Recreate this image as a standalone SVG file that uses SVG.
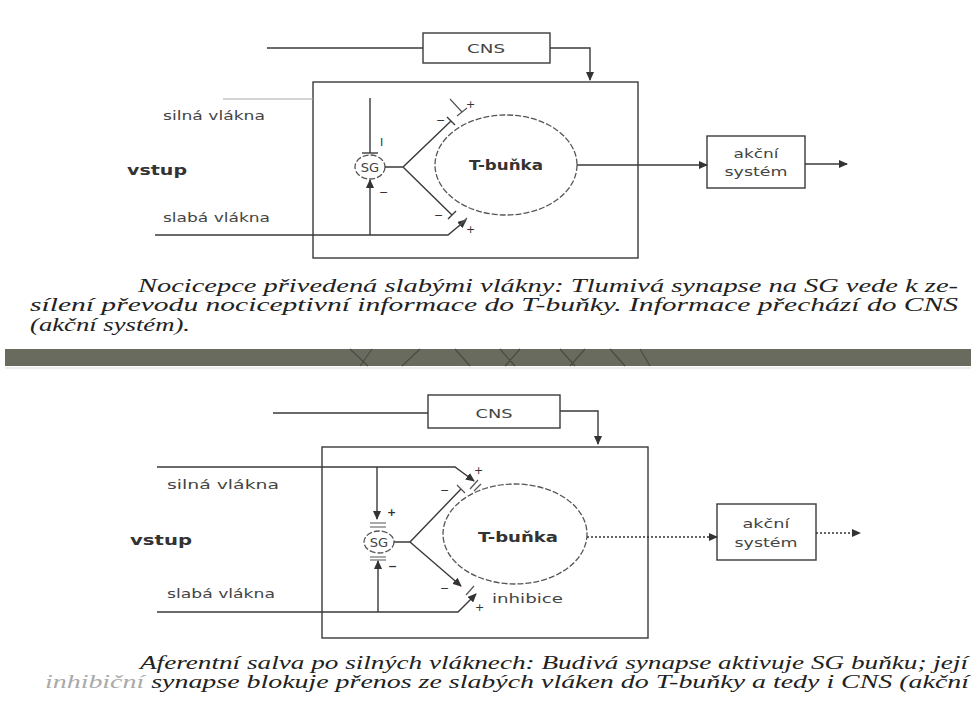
<svg xmlns="http://www.w3.org/2000/svg" width="971" height="702" viewBox="0 0 971 702">
<defs>
<marker id="ah" markerUnits="userSpaceOnUse" markerWidth="9" markerHeight="8" refX="8" refY="4" orient="auto"><path d="M0,0 L9,4 L0,8 z" fill="#333"/></marker>
<style>
.ln{stroke:#3a3a3a;stroke-width:1.4;fill:none}
.th{stroke:#555;stroke-width:1.2;fill:none}
.dash{stroke:#555;stroke-width:1.3;fill:none;stroke-dasharray:6 2}
.dot{stroke:#333;stroke-width:1.6;fill:none;stroke-dasharray:2 2}
.lbl{font-family:"DejaVu Sans",sans-serif;font-size:13px;fill:#444}
.b{font-weight:bold;fill:#333;font-size:14px}
.sm{font-family:"DejaVu Sans",sans-serif;font-size:11px;fill:#333}
.cap{font-family:"Liberation Serif",serif;font-style:italic;font-size:19px;fill:#222}
</style>
</defs>
<rect width="971" height="702" fill="#fff"/>

<!-- TOP DIAGRAM -->
<g id="top-box"><rect x="313" y="82" width="325" height="176" class="ln"/></g>
<g id="top-cns"><rect x="423" y="33" width="127" height="30" class="ln"/><text x="486" y="53" class="lbl" font-size="12" text-anchor="middle" textLength="38" lengthAdjust="spacingAndGlyphs">CNS</text></g>
<g id="top-sg"><ellipse cx="370" cy="167" rx="15" ry="12" class="dash"/><text x="370" y="172" class="lbl" font-size="12" text-anchor="middle">SG</text></g>
<g id="top-t"><ellipse cx="506" cy="165" rx="71" ry="50" class="dash"/><text x="506" y="170" class="lbl b" text-anchor="middle" textLength="74" lengthAdjust="spacingAndGlyphs">T-buňka</text></g>
<g id="top-akcni"><rect x="707" y="136" width="98" height="52" class="ln"/><text x="756" y="158" class="lbl" text-anchor="middle" textLength="45" lengthAdjust="spacingAndGlyphs">akční</text><text x="756" y="176" class="lbl" text-anchor="middle" textLength="63" lengthAdjust="spacingAndGlyphs">systém</text></g>
<g id="top-labels">
<text x="163" y="120" class="lbl" textLength="102" lengthAdjust="spacingAndGlyphs">silná vlákna</text>
<text x="127" y="175" class="lbl b" textLength="60" lengthAdjust="spacingAndGlyphs">vstup</text>
<text x="163" y="222" class="lbl" textLength="107" lengthAdjust="spacingAndGlyphs">slabá vlákna</text>
<text x="380" y="146" class="sm">I</text>
<text x="379" y="196" class="sm">−</text>
<text x="436" y="124" class="sm">−</text>
<text x="466" y="108" class="sm">+</text>
<text x="434" y="219" class="sm">−</text>
<text x="466" y="233" class="sm">+</text>
</g>
<g id="top-connectors">
<path d="M267,48 H423" class="ln"/>
<path d="M550,48 H590 V80" class="ln" marker-end="url(#ah)"/>
<path d="M223,99 H313" stroke="#aaa" stroke-width="1.2" fill="none"/>
<path d="M370,98 V153" class="ln"/>
<path d="M362,153 H378" class="ln"/>
<path d="M370,235 V180" class="ln" stroke-width="1.8" marker-end="url(#ah)"/>
<path d="M155,235 H448 L466,220" class="ln" stroke-width="1.8" marker-end="url(#ah)"/>
<path d="M385,167 H403 L451,121 M403,167 L452,215" class="ln"/>
<path d="M447,117 L455,125 M448,219 L456,211" class="ln"/>
<path d="M450,99 L462,112 M457,116 L467,108 M459,226 L467,218" class="th"/>
<path d="M577,165 H707" class="ln" marker-end="url(#ah)"/>
<path d="M805,164 H847" class="ln" stroke-width="1.8" marker-end="url(#ah)"/>
</g>

<!-- CAPTION 1 -->
<g id="caption1">
<text x="138" y="292" class="cap" textLength="820" lengthAdjust="spacingAndGlyphs">Nocicepce přivedená slabými vlákny: Tlumivá synapse na SG vede k ze-</text>
<text x="30" y="311" class="cap" textLength="928" lengthAdjust="spacingAndGlyphs">sílení převodu nociceptivní informace do T-buňky. Informace přechází do CNS</text>
<text x="30" y="331" class="cap" textLength="160" lengthAdjust="spacingAndGlyphs">(akční systém).</text>
</g>

<!-- BAND -->
<g id="band">
<rect x="5" y="349" width="966" height="17" fill="#6a6b5f"/>
<path d="M350,349 L368,366 M372,349 L360,366 M420,349 L402,366 M455,349 L470,366 M500,349 L515,366 M520,349 L505,366 M560,349 L575,366 M585,349 L570,366 M610,349 L625,366 M640,349 L650,366" stroke="#4a4b42" stroke-width="1.2"/>
<path d="M5,368 H971" stroke="#ddd" stroke-width="1"/>
</g>

<!-- BOTTOM DIAGRAM -->
<g id="bot-box"><rect x="322" y="447" width="326" height="191" class="ln"/></g>
<g id="bot-cns"><rect x="428" y="395" width="132" height="33" class="ln"/><text x="494" y="418" class="lbl" font-size="12" text-anchor="middle" textLength="37" lengthAdjust="spacingAndGlyphs">CNS</text></g>
<g id="bot-sg"><ellipse cx="379" cy="542" rx="15" ry="11" class="dash"/><text x="379" y="547" class="lbl" font-size="12" text-anchor="middle">SG</text></g>
<g id="bot-t"><ellipse cx="515" cy="534" rx="72" ry="50" class="dash"/><text x="518" y="542" class="lbl b" text-anchor="middle" textLength="80" lengthAdjust="spacingAndGlyphs">T-buňka</text></g>
<g id="bot-akcni"><rect x="717" y="504" width="99" height="56" class="ln"/><text x="766" y="528" class="lbl" text-anchor="middle" textLength="47" lengthAdjust="spacingAndGlyphs">akční</text><text x="766" y="547" class="lbl" text-anchor="middle" textLength="63" lengthAdjust="spacingAndGlyphs">systém</text></g>
<g id="bot-labels">
<text x="167" y="489" class="lbl" textLength="112" lengthAdjust="spacingAndGlyphs">silná vlákna</text>
<text x="130" y="545" class="lbl b" textLength="62" lengthAdjust="spacingAndGlyphs">vstup</text>
<text x="167" y="598" class="lbl" textLength="108" lengthAdjust="spacingAndGlyphs">slabá vlákna</text>
<text x="492" y="603" class="lbl" font-size="14" textLength="71" lengthAdjust="spacingAndGlyphs">inhibice</text>
<text x="387" y="516" class="sm" font-weight="bold">+</text>
<text x="388" y="570" class="sm" font-weight="bold">−</text>
<text x="440" y="494" class="sm">−</text>
<text x="474" y="474" class="sm">+</text>
<text x="440" y="592" class="sm">−</text>
<text x="475" y="611" class="sm">+</text>
</g>
<g id="bot-connectors">
<path d="M273,413 H428" class="ln"/>
<path d="M560,411 H598 V444" class="ln" marker-end="url(#ah)"/>
<path d="M157,467 H455 L474,481" class="ln" stroke-width="1.8" marker-end="url(#ah)"/>
<path d="M377,467 V519" class="ln" stroke-width="1.8" marker-end="url(#ah)"/>
<path d="M370,523 H386 M370,527 H386 M370,557 H386 M370,560 H386" class="th"/>
<path d="M157,612 H458 L476,594" class="ln" stroke-width="1.8" marker-end="url(#ah)"/>
<path d="M378,612 V561" class="ln" stroke-width="1.8" marker-end="url(#ah)"/>
<path d="M394,542 H410 L461,489" class="ln"/>
<path d="M410,542 L461,586" class="ln" marker-end="url(#ah)"/>
<path d="M457,485 L465,493 M470,489 L478,480 M466,595 L474,586 M481,484 L474,491" class="th"/>
<path d="M587,537 H717" class="dot" marker-end="url(#ah)"/>
<path d="M816,533 H860" class="dot" marker-end="url(#ah)"/>
</g>

<!-- CAPTION 2 -->
<g id="caption2">
<text x="140" y="669" class="cap" textLength="828" lengthAdjust="spacingAndGlyphs">Aferentní salva po silných vláknech: Budivá synapse aktivuje SG buňku; její</text>
<text x="45" y="688" class="cap" textLength="924" lengthAdjust="spacingAndGlyphs"><tspan fill="#aaa">inhibiční</tspan> synapse blokuje přenos ze slabých vláken do T-buňky a tedy i CNS (akční</text>
</g>
</svg>
